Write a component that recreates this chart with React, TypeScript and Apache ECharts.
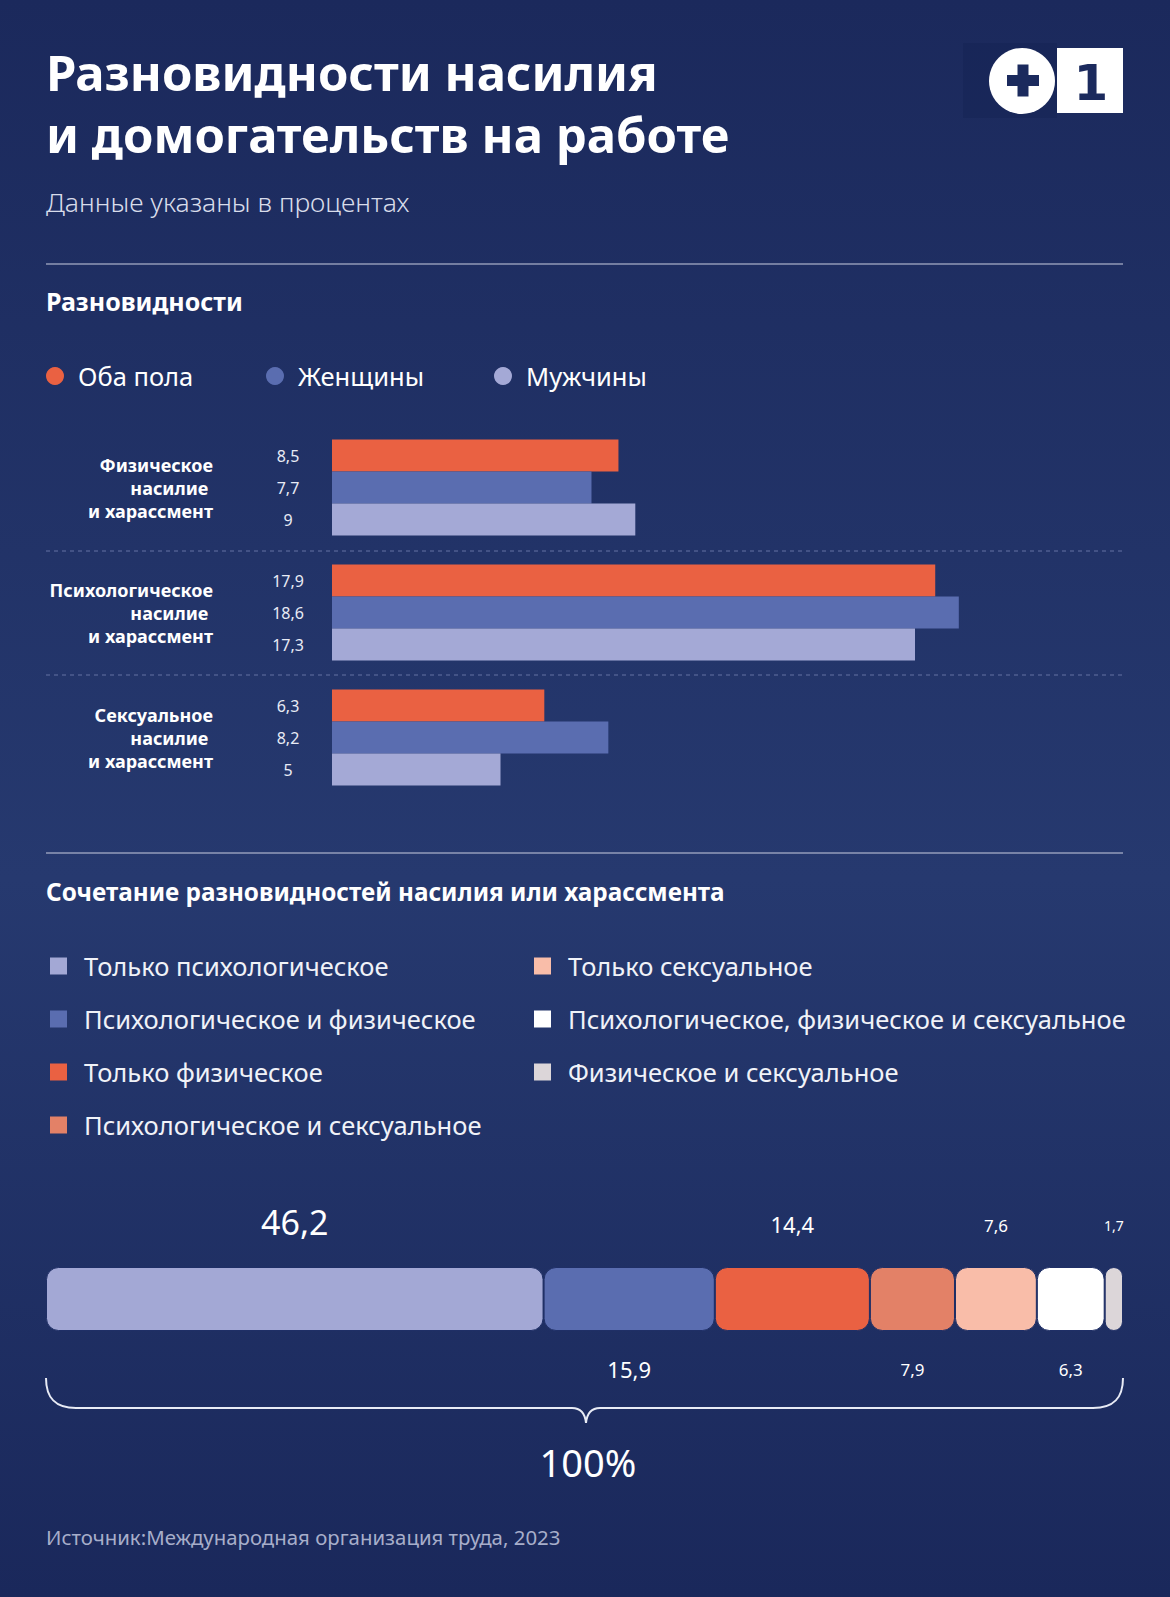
import React, { useEffect, useRef } from "react";
import * as echarts from "echarts";

const W = 1170;
const H = 1597;

// ---- data ----
const typeCategories = [
  "Физическое\nнасилие \nи харассмент",
  "Психологическое\nнасилие \nи харассмент",
  "Сексуальное\nнасилие \nи харассмент",
];
const genderNames = ["Оба пола", "Женщины", "Мужчины"];
const bothValues = [8.5, 17.9, 6.3];
const womenValues = [7.7, 18.6, 8.2];
const menValues = [9, 17.3, 5];

const comboNames = [
  "Только психологическое",
  "Психологическое и физическое",
  "Только физическое",
  "Психологическое и сексуальное",
  "Только сексуальное",
  "Психологическое, физическое и сексуальное",
  "Физическое и сексуальное",
];
const comboValues = [46.2, 15.9, 14.4, 7.9, 7.6, 6.3, 1.7];
const legendCol1 = comboNames.slice(0, 4);
const legendCol2 = comboNames.slice(4);

// ---- styles ----
const FONT = "'Noto Sans', Lato, sans-serif";
const genderColors = ["#ea6142", "#5a6db0", "#a4a9d6"];
const comboColors = ["#a3a8d5", "#5a6db0", "#ea6142", "#e38167", "#f9bda9", "#ffffff", "#dcd6d9"];
const comboLabelSide = ["top", "bottom", "top", "bottom", "top", "bottom", "top"];
const comboLabelSize = [34, 22, 22, 17, 17, 17, 14];
const comboLabelDist = [28, 27, 32, 30, 33, 30, 35];
const GAP_COLOR = "#1f2f66";

const BRACE_D =
  "M46,1378 C46,1398 55,1408 76,1408 L572,1408 C580,1408 585,1413 586,1423 C587,1413 592,1408 600,1408 L1093,1408 C1114,1408 1123,1398 1123,1378";
echarts.graphic.registerShape("brace", echarts.graphic.extendPath(BRACE_D, {}));

const fmt = (v: number) => String(v).replace(".", ",");

function buildOption(): any {
  const barSeries = genderNames.map((name, i) => ({
    name,
    type: "bar",
    xAxisIndex: 0,
    yAxisIndex: 0,
    data: [bothValues, womenValues, menValues][i],
    barWidth: 32,
    barGap: "0%",
    itemStyle: { color: genderColors[i] },
    label: {
      show: true,
      position: "left",
      distance: 44,
      align: "center",
      color: "#e8ebf5",
      fontSize: 16,
      fontFamily: FONT,
      formatter: (p: any) => fmt(p.value),
    },
  }));

  const comboSeries = comboNames.map((name, i) => ({
    name,
    type: "bar",
    stack: "all",
    xAxisIndex: 1,
    yAxisIndex: 1,
    data: [comboValues[i]],
    barWidth: 64,
    itemStyle: {
      color: comboColors[i],
      borderRadius: 12,
      borderColor: GAP_COLOR,
      borderWidth: 1,
    },
    label: {
      show: true,
      position: comboLabelSide[i],
      distance: comboLabelDist[i],
      color: "#ffffff",
      fontSize: comboLabelSize[i],
      lineHeight: comboLabelSize[i],
      fontFamily: FONT,
      formatter: (p: any) => fmt(p.value),
    },
  }));

  const legendBase = {
    selectedMode: false,
    padding: 0,
    itemStyle: { borderWidth: 0 },
  };
  const legend1Text = { color: "#ffffff", fontSize: 25.5, lineHeight: 24, fontFamily: FONT, padding: [0, 0, 0, 9] };
  const legend2Text = { color: "#f0f2f8", fontSize: 25.5, lineHeight: 24, fontFamily: FONT, padding: [0, 0, 0, 12] };

  return {
    animation: false,
    backgroundColor: new echarts.graphic.LinearGradient(0, 0, 0, 1, [
      { offset: 0, color: "#1b295c" },
      { offset: 0.55, color: "#26396f" },
      { offset: 1, color: "#1a285b" },
    ]),
    grid: [
      { left: 332, width: 674, top: 425, height: 375 },
      { left: 46, width: 1077, top: 1267, height: 64 },
    ],
    xAxis: [
      { type: "value", gridIndex: 0, min: 0, max: 20, show: false },
      { type: "value", gridIndex: 1, min: 0, max: 100, show: false },
    ],
    yAxis: [
      {
        type: "category",
        gridIndex: 0,
        data: typeCategories,
        inverse: true,
        axisLine: { show: false },
        axisTick: { show: false },
        splitLine: { show: false },
        axisLabel: {
          margin: 119,
          align: "right",
          color: "#ffffff",
          fontSize: 18,
          fontWeight: "bold",
          lineHeight: 23,
          fontFamily: FONT,
        },
      },
      { type: "category", gridIndex: 1, data: ["all"], show: false },
    ],
    legend: [
      { ...legendBase, data: [genderNames[0]], left: 46, top: 363, icon: "circle", itemWidth: 18, itemHeight: 18, textStyle: legend1Text },
      { ...legendBase, data: [genderNames[1]], left: 266, top: 363, icon: "circle", itemWidth: 18, itemHeight: 18, textStyle: legend1Text },
      { ...legendBase, data: [genderNames[2]], left: 494, top: 363, icon: "circle", itemWidth: 18, itemHeight: 18, textStyle: legend1Text },
      {
        ...legendBase,
        data: legendCol1,
        orient: "vertical",
        left: 50,
        top: 953,
        itemGap: 27,
        icon: "rect",
        itemWidth: 17,
        itemHeight: 17,
        textStyle: legend2Text,
      },
      {
        ...legendBase,
        data: legendCol2,
        orient: "vertical",
        left: 534,
        top: 953,
        itemGap: 27,
        icon: "rect",
        itemWidth: 17,
        itemHeight: 17,
        textStyle: legend2Text,
      },
    ],
    series: [...barSeries, ...comboSeries],
    graphic: [
      // title
      {
        type: "text",
        x: 46,
        y: 72,
        style: {
          text: "Разновидности насилия",
          fill: "#ffffff",
          fontSize: 49,
          fontWeight: "bold",
          fontFamily: FONT,
          verticalAlign: "middle",
        },
      },
      {
        type: "text",
        x: 46,
        y: 134,
        style: {
          text: "и домогательств на работе",
          fill: "#ffffff",
          fontSize: 49,
          fontWeight: "bold",
          fontFamily: FONT,
          verticalAlign: "middle",
        },
      },
      {
        type: "text",
        x: 46,
        y: 202,
        style: {
          text: "Данные указаны в процентах",
          fill: "#d8dcea",
          fontSize: 26.5,
          fontWeight: 300,
          fontFamily: FONT,
          verticalAlign: "middle",
        },
      },
      // logo
      { type: "rect", shape: { x: 963, y: 43, width: 94, height: 75 }, style: { fill: "rgba(10,20,60,0.15)" } },
      { type: "circle", shape: { cx: 1022, cy: 81, r: 33 }, style: { fill: "#ffffff" } },
      { type: "rect", shape: { x: 1007, y: 75, width: 32, height: 11 }, style: { fill: "#1b2a5d" } },
      { type: "rect", shape: { x: 1017.5, y: 64.5, width: 11, height: 32 }, style: { fill: "#1b2a5d" } },
      { type: "rect", shape: { x: 1057, y: 48, width: 66, height: 65 }, style: { fill: "#ffffff" } },
      {
        type: "text",
        x: 1091,
        y: 83,
        style: {
          text: "1",
          fill: "#1b2a5d",
          fontSize: 50,
          fontWeight: "bold",
          fontFamily: "'DejaVu Sans', sans-serif",
          align: "center",
          verticalAlign: "middle",
        },
      },
      // divider 1
      { type: "line", shape: { x1: 46, y1: 264, x2: 1123, y2: 264 }, style: { stroke: "#c9cee0", lineWidth: 1.2 } },
      {
        type: "text",
        x: 46,
        y: 301,
        style: {
          text: "Разновидности",
          fill: "#ffffff",
          fontSize: 25,
          fontWeight: "bold",
          fontFamily: FONT,
          verticalAlign: "middle",
        },
      },
      // dashed separators
      {
        type: "line",
        shape: { x1: 46, y1: 551, x2: 1123, y2: 551 },
        style: { stroke: "#6472a3", lineWidth: 1, lineDash: [4, 4] },
      },
      {
        type: "line",
        shape: { x1: 46, y1: 675, x2: 1123, y2: 675 },
        style: { stroke: "#6472a3", lineWidth: 1, lineDash: [4, 4] },
      },
      // divider 2
      { type: "line", shape: { x1: 46, y1: 853, x2: 1123, y2: 853 }, style: { stroke: "#c9cee0", lineWidth: 1.2 } },
      {
        type: "text",
        x: 46,
        y: 891,
        style: {
          text: "Сочетание разновидностей насилия или харассмента",
          fill: "#ffffff",
          fontSize: 24.3,
          fontWeight: "bold",
          fontFamily: FONT,
          verticalAlign: "middle",
        },
      },
      // brace
      {
        type: "brace",
        x: 0,
        y: 0,
        style: { stroke: "#e8ebf5", fill: "none", lineWidth: 2 },
      },
      {
        type: "text",
        x: 588,
        y: 1462,
        style: {
          text: "100%",
          fill: "#ffffff",
          fontSize: 38,
          fontFamily: FONT,
          align: "center",
          verticalAlign: "middle",
        },
      },
      {
        type: "text",
        x: 46,
        y: 1537,
        style: {
          text: "Источник:Международная организация труда, 2023",
          fill: "#a7aeca",
          fontSize: 20.4,
          fontFamily: FONT,
          verticalAlign: "middle",
        },
      },
    ],
  };
}

export default function App() {
  const ref = useRef<HTMLDivElement>(null);
  useEffect(() => {
    if (!ref.current) return;
    const chart = echarts.init(ref.current, null, { renderer: "svg", width: W, height: H });
    chart.setOption(buildOption());
    return () => chart.dispose();
  }, []);
  return <div ref={ref} style={{ position: "absolute", left: 0, top: 0, width: W, height: H }} />;
}
